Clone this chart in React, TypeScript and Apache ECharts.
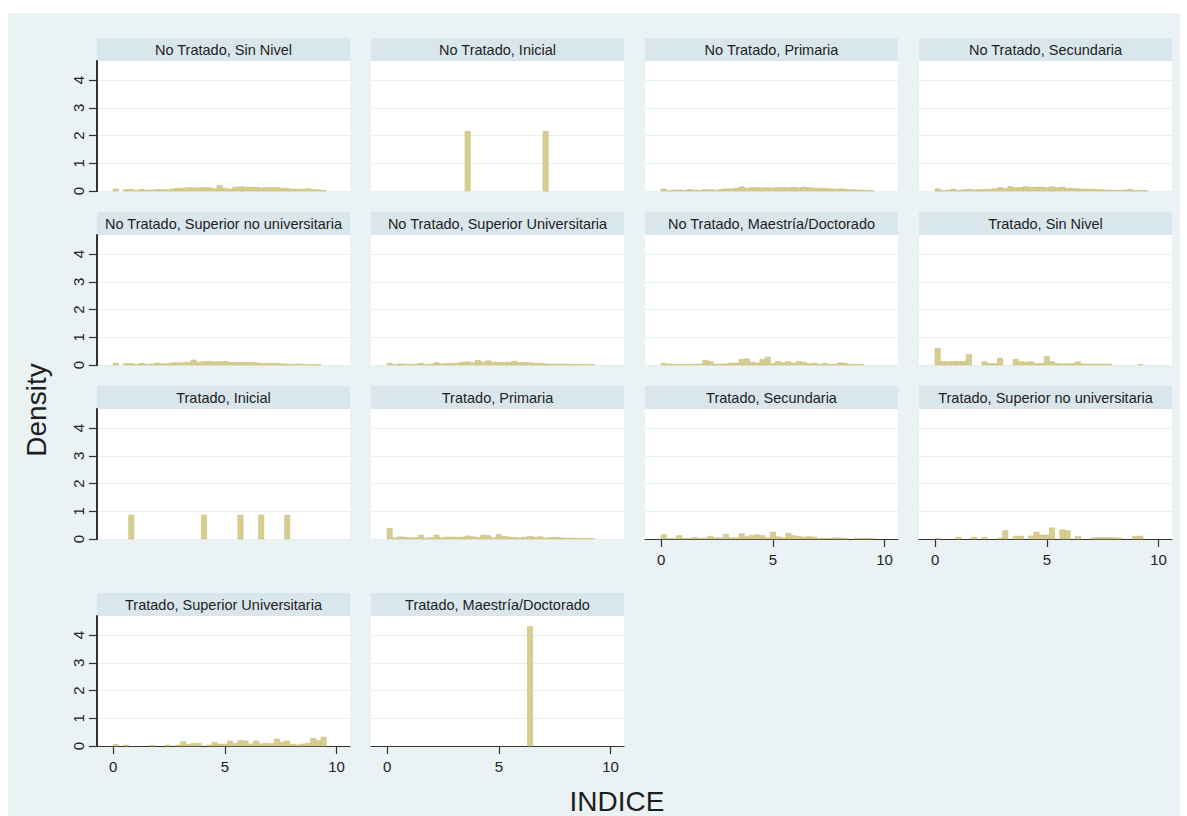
import React, { useEffect, useRef } from "react";
import * as echarts from "echarts";

// ---------- data ----------
const panelTitles = [
  "No Tratado, Sin Nivel",
  "No Tratado, Inicial",
  "No Tratado, Primaria",
  "No Tratado, Secundaria",
  "No Tratado, Superior no universitaria",
  "No Tratado, Superior Universitaria",
  "No Tratado, Maestría/Doctorado",
  "Tratado, Sin Nivel",
  "Tratado, Inicial",
  "Tratado, Primaria",
  "Tratado, Secundaria",
  "Tratado, Superior no universitaria",
  "Tratado, Superior Universitaria",
  "Tratado, Maestría/Doctorado",
];

// 43 bins of equal width over 0..10 (density per bin)
const noTratadoSinNivel = [0.07,0,0.05,0.06,0.02,0.06,0.03,0.03,0.05,0.05,0.04,0.08,0.1,0.1,0.12,0.11,0.11,0.12,0.12,0.08,0.2,0.1,0.07,0.14,0.15,0.14,0.14,0.13,0.11,0.13,0.12,0.13,0.1,0.09,0.07,0.06,0.07,0.08,0.05,0.04,0.02,0,0];
const noTratadoInicial = [0,0,0,0,0,0,0,0,0,0,0,0,0,0,0,2.15,0,0,0,0,0,0,0,0,0,0,0,0,0,0,2.15,0,0,0,0,0,0,0,0,0,0,0,0];
const noTratadoPrimaria = [0.07,0.01,0.04,0.03,0.02,0.05,0.03,0.02,0.05,0.04,0.03,0.05,0.08,0.08,0.1,0.15,0.1,0.12,0.12,0.11,0.12,0.11,0.12,0.12,0.12,0.13,0.11,0.14,0.12,0.1,0.1,0.09,0.08,0.07,0.08,0.06,0.05,0.04,0.03,0.02,0.01,0,0];
const noTratadoSecundaria = [0.08,0.01,0.03,0.07,0.02,0.04,0.06,0.04,0.05,0.05,0.06,0.08,0.12,0.09,0.16,0.12,0.13,0.16,0.13,0.14,0.14,0.12,0.15,0.12,0.14,0.1,0.09,0.08,0.07,0.07,0.06,0.05,0.04,0.03,0.03,0.02,0.03,0.06,0.02,0.02,0.01,0,0];
const noTratadoSupNoUniv = [0.06,0,0.05,0.05,0.02,0.06,0.02,0.03,0.07,0.04,0.05,0.08,0.08,0.09,0.1,0.18,0.1,0.12,0.13,0.11,0.12,0.13,0.1,0.09,0.09,0.1,0.09,0.08,0.06,0.05,0.06,0.05,0.04,0.03,0.02,0.03,0.02,0.01,0.01,0.01,0,0,0];
const noTratadoSupUniv = [0.06,0.01,0.04,0.02,0.02,0.03,0.06,0.02,0.03,0.09,0.04,0.05,0.05,0.06,0.1,0.11,0.08,0.17,0.1,0.15,0.1,0.1,0.09,0.1,0.14,0.09,0.09,0.08,0.06,0.06,0.04,0.03,0.03,0.03,0.03,0.02,0.02,0.02,0.02,0.01,0,0,0];
const noTratadoMaestria = [0.06,0.03,0.02,0.02,0.02,0.02,0.02,0.03,0.17,0.13,0.03,0.03,0.04,0.07,0.07,0.2,0.22,0.1,0.07,0.2,0.28,0.05,0.13,0.08,0.12,0.07,0.13,0.1,0.04,0.07,0.03,0.06,0.02,0.02,0.08,0.06,0.02,0.02,0.02,0,0,0,0];
const tratadoSinNivel = [0.6,0.12,0.12,0.13,0.13,0.13,0.38,0,0,0.12,0.05,0.05,0.25,0,0,0.2,0.12,0.1,0.12,0.05,0.05,0.3,0.12,0.05,0.04,0.04,0.05,0.12,0.04,0.02,0.03,0.03,0.03,0.03,0,0,0,0,0,0.02,0,0,0];
const tratadoInicial = [0,0,0,0.86,0,0,0,0,0,0,0,0,0,0,0,0,0,0.86,0,0,0,0,0,0,0.86,0,0,0,0.86,0,0,0,0,0.86,0,0,0,0,0,0,0,0,0];
const tratadoPrimaria = [0.38,0.04,0.08,0.06,0.04,0.05,0.14,0.03,0.05,0.14,0.04,0.07,0.07,0.06,0.07,0.11,0.08,0.05,0.14,0.12,0.04,0.16,0.1,0.07,0.06,0.04,0.07,0.09,0.07,0.08,0.03,0.05,0.06,0.04,0.03,0.03,0.02,0.02,0.02,0.01,0,0,0];
const tratadoSecundaria = [0.15,0.02,0.02,0.12,0.02,0.02,0.06,0.02,0.03,0.1,0.04,0.04,0.17,0.04,0.04,0.19,0.08,0.13,0.15,0.12,0.04,0.25,0.08,0.04,0.2,0.12,0.09,0.07,0.08,0.07,0.02,0.02,0.02,0.04,0.04,0.02,0,0.02,0.02,0.02,0.02,0,0];
const tratadoSupNoUniv = [0.02,0,0,0,0.06,0,0,0.06,0,0.06,0,0,0.03,0.3,0,0.1,0.1,0,0.11,0.25,0.14,0.14,0.4,0,0.33,0.3,0,0.1,0,0,0.04,0.05,0.06,0.05,0.04,0.03,0,0,0.1,0.1,0,0,0];
const tratadoSupUniv = [0.06,0,0.03,0,0,0,0,0.02,0,0,0.03,0,0.03,0.15,0.05,0.09,0.1,0,0.03,0.13,0.07,0.07,0.18,0.09,0.2,0.18,0.07,0.18,0.08,0.09,0.08,0.25,0.14,0.18,0.06,0.04,0.07,0.1,0.28,0.2,0.32,0,0];
const tratadoMaestria = [0,0,0,0,0,0,0,0,0,0,0,0,0,0,0,0,0,0,0,0,0,0,0,0,0,0,0,4.3,0,0,0,0,0,0,0,0,0,0,0,0,0,0,0];

const panelValues = [
  noTratadoSinNivel, noTratadoInicial, noTratadoPrimaria, noTratadoSecundaria,
  noTratadoSupNoUniv, noTratadoSupUniv, noTratadoMaestria, tratadoSinNivel,
  tratadoInicial, tratadoPrimaria, tratadoSecundaria, tratadoSupNoUniv,
  tratadoSupUniv, tratadoMaestria,
];

const xTicks = [0, 5, 10];
const yTicks = [0, 1, 2, 3, 4];
const xAxisTitle = "INDICE";
const yAxisTitle = "Density";

// ---------- layout / style ----------
const BIN_WIDTH = 10 / 43;
const OX = 8;
const OY = 13;
const COL_LEFT = [97, 371, 645, 919];
const ROW_TOP = [61, 235, 409, 616];
const PW = 253;
const PH = 130;
const TITLE_H = 23;
const X_MIN = -0.72;
const X_MAX = 10.6;
const Y_MAX = 4.685;
const BG = "#eaf2f3";
const STRIP = "#d9e6eb";
const BAR_FILL = "#d8cd90";
const BAR_STROKE = "#c9bd78";
const AXIS_COLOR = "#333333";
const FONT = "Liberation Sans, Arial, sans-serif";
const SHOW_X = new Set([10, 11, 12, 13]);

export default function App() {
  const ref = useRef<HTMLDivElement>(null);
  useEffect(() => {
    if (!ref.current) return;
    const chart = echarts.init(ref.current, undefined, { renderer: "svg" });

    const grids: any[] = [];
    const xAxes: any[] = [];
    const yAxes: any[] = [];
    const series: any[] = [];
    const graphics: any[] = [];

    panelValues.forEach((vals, i) => {
      const r = Math.floor(i / 4);
      const c = i % 4;
      const left = COL_LEFT[c] - OX;
      const top = ROW_TOP[r] - OY;
      grids.push({ left, top, width: PW, height: PH, show: false });
      const showX = SHOW_X.has(i);
      const showY = c === 0;
      xAxes.push({
        type: "value", gridIndex: i, min: X_MIN, max: X_MAX,
        axisLine: { show: showX, onZero: false, lineStyle: { color: AXIS_COLOR, width: 1.2 } },
        axisTick: { show: showX, customValues: xTicks, length: 8, lineStyle: { color: AXIS_COLOR, width: 1.2 } },
        axisLabel: { show: showX, customValues: xTicks, fontSize: 15, color: "#222", fontFamily: FONT, margin: 13 },
        splitLine: { show: false },
      });
      yAxes.push({
        type: "value", gridIndex: i, min: 0, max: Y_MAX, interval: 1, position: "left",
        axisLine: { show: showY, onZero: false, lineStyle: { color: AXIS_COLOR, width: 2 } },
        axisTick: { show: showY, customValues: yTicks, length: 8, lineStyle: { color: AXIS_COLOR, width: 1.2 } },
        axisLabel: {
          show: showY, customValues: yTicks, rotate: 90, fontSize: 15, color: "#222",
          fontFamily: FONT, margin: 11,
          formatter: (v: number) => (Number.isInteger(v) ? String(v) : ""),
        },
        splitLine: { show: true, lineStyle: { color: "#e6eff1", width: 1.2 } },
      });
      const data = vals
        .map((v, k) => [k * BIN_WIDTH, (k + 1) * BIN_WIDTH, v])
        .filter((d) => d[2] > 0);
      series.push({
        type: "custom",
        coordinateSystem: "cartesian2d",
        xAxisIndex: i,
        yAxisIndex: i,
        encode: { x: [0, 1], y: 2 },
        data,
        renderItem: (_p: any, api: any) => {
          const a = api.coord([api.value(0), api.value(2)]);
          const b = api.coord([api.value(1), 0]);
          return {
            type: "rect",
            shape: { x: a[0], y: a[1], width: b[0] - a[0], height: b[1] - a[1] },
            style: { fill: BAR_FILL, stroke: BAR_STROKE, lineWidth: 0.6 },
          };
        },
      });
      // white plot region (below axes and bars)
      graphics.push({
        type: "rect",
        z: -10,
        shape: { x: left, y: top, width: PW, height: PH },
        style: { fill: "#ffffff" },
        silent: true,
      });
      graphics.push({
        type: "rect",
        z: -10,
        shape: { x: left, y: top - TITLE_H, width: PW, height: TITLE_H },
        style: { fill: STRIP },
        silent: true,
      });
      if (showY) {
        // vertical axis rule along the left edge of the plot region
        graphics.push({
          type: "rect",
          z: 20,
          shape: { x: left - 1, y: top, width: 2, height: PH + 1 },
          style: { fill: AXIS_COLOR },
          silent: true,
        });
      }
      graphics.push({
        type: "text",
        x: left + PW / 2,
        y: top - TITLE_H / 2,
        style: {
          text: panelTitles[i], fontSize: 14.5, fontFamily: FONT, fill: "#1e1e1e",
          align: "center", verticalAlign: "middle",
        },
        silent: true,
      });
    });

    graphics.push({
      type: "text",
      x: 36 - OX,
      y: 410 - OY,
      rotation: Math.PI / 2,
      style: {
        text: yAxisTitle, fontSize: 28, fontFamily: FONT, fill: "#1e1e1e",
        align: "center", verticalAlign: "middle",
      },
    });
    graphics.push({
      type: "text",
      x: 617 - OX,
      y: 801 - OY,
      style: {
        text: xAxisTitle, fontSize: 28, fontFamily: FONT, fill: "#1e1e1e",
        align: "center", verticalAlign: "middle",
      },
    });

    chart.setOption({
      animation: false,
      backgroundColor: BG,
      grid: grids,
      xAxis: xAxes,
      yAxis: yAxes,
      series,
      graphic: graphics,
    });
    return () => chart.dispose();
  }, []);

  return (
    <div style={{ position: "absolute", left: 0, top: 0, width: 1187, height: 816, background: "#ffffff" }}>
      <div ref={ref} style={{ position: "absolute", left: OX, top: OY, width: 1172, height: 816 - OY }} />
    </div>
  );
}
